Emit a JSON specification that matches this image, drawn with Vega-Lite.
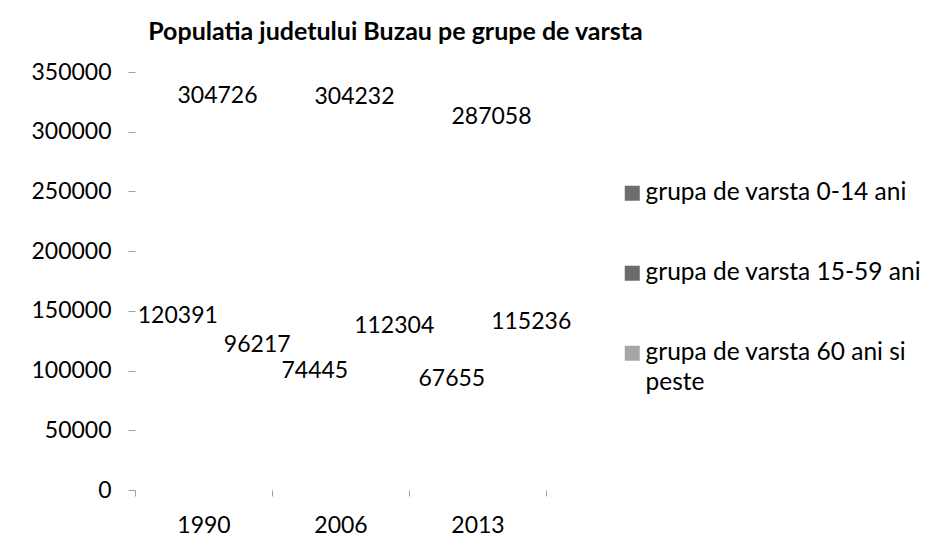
{
  "$schema": "https://vega.github.io/schema/vega-lite/v6.json",
  "autosize": {"type": "none"},
  "width": 411,
  "height": 418,
  "padding": {"left": 135, "top": 72, "right": 385, "bottom": 68},
  "background": "white",
  "title": {
    "text": "Populatia judetului Buzau pe grupe de varsta",
    "font": "Lato",
    "fontSize": 25,
    "fontWeight": "bold",
    "color": "#000000",
    "anchor": "middle",
    "dx": 55,
    "offset": 16
  },
  "data": {
    "values": [
      {"an": "1990", "grupa": "grupa de varsta 0-14 ani", "populatie": 120391},
      {"an": "1990", "grupa": "grupa de varsta 15-59 ani", "populatie": 304726},
      {"an": "1990", "grupa": "grupa de varsta 60 ani si peste", "populatie": 96217},
      {"an": "2006", "grupa": "grupa de varsta 0-14 ani", "populatie": 74445},
      {"an": "2006", "grupa": "grupa de varsta 15-59 ani", "populatie": 304232},
      {"an": "2006", "grupa": "grupa de varsta 60 ani si peste", "populatie": 112304},
      {"an": "2013", "grupa": "grupa de varsta 0-14 ani", "populatie": 67655},
      {"an": "2013", "grupa": "grupa de varsta 15-59 ani", "populatie": 287058},
      {"an": "2013", "grupa": "grupa de varsta 60 ani si peste", "populatie": 115236}
    ]
  },
  "encoding": {
    "x": {
      "field": "an",
      "type": "nominal",
      "scale": {"paddingInner": 0, "paddingOuter": 0},
      "axis": {
        "title": null,
        "labelAngle": 0,
        "domain": false,
        "tickBand": "extent",
        "tickSize": 6,
        "tickColor": "#a0a0a0",
        "labelPadding": 18,
        "labelFont": "Lato",
        "labelFontSize": 23,
        "labelColor": "#000000"
      }
    },
    "xOffset": {
      "field": "grupa",
      "type": "nominal",
      "scale": {"paddingOuter": 0.225, "paddingInner": 0}
    },
    "y": {
      "field": "populatie",
      "type": "quantitative",
      "scale": {"domain": [0, 350000], "nice": false},
      "axis": {
        "title": null,
        "values": [0, 50000, 100000, 150000, 200000, 250000, 300000, 350000],
        "format": "d",
        "domain": false,
        "grid": false,
        "tickSize": 7,
        "tickColor": "#a0a0a0",
        "labelPadding": 17,
        "labelFont": "Lato",
        "labelFontSize": 23,
        "labelColor": "#000000"
      }
    }
  },
  "layer": [
    {
      "mark": {"type": "bar", "opacity": 0},
      "encoding": {
        "color": {
          "field": "grupa",
          "type": "nominal",
          "scale": {"range": ["#6d6d6d", "#6b6b6b", "#a6a6a6"]},
          "legend": {
            "title": null,
            "orient": "none",
            "legendX": 485,
            "legendY": 109,
            "symbolType": "square",
            "symbolSize": 225,
            "symbolOpacity": 1,
            "symbolStrokeWidth": 0,
            "labelFont": "Lato",
            "labelFontSize": 24.5,
            "labelColor": "#000000",
            "labelOffset": 1,
            "labelLimit": 400,
            "rowPadding": 55,
            "labelExpr": "datum.label == 'grupa de varsta 60 ani si peste' ? ['grupa de varsta 60 ani si', 'peste'] : datum.label",
            "encoding": {"labels": {"enter": {"lineHeight": {"value": 30}}, "update": {"lineHeight": {"value": 30}}}}
          }
        }
      }
    },
    {
      "mark": {"type": "text", "font": "Lato", "fontSize": 23, "color": "#000000", "baseline": "middle", "dy": -30, "dx": 14},
      "encoding": {
        "text": {"field": "populatie", "type": "quantitative", "format": "d"}
      }
    }
  ],
  "config": {"view": {"stroke": null}, "style": {"guide-label": {"lineHeight": 30}}}
}
